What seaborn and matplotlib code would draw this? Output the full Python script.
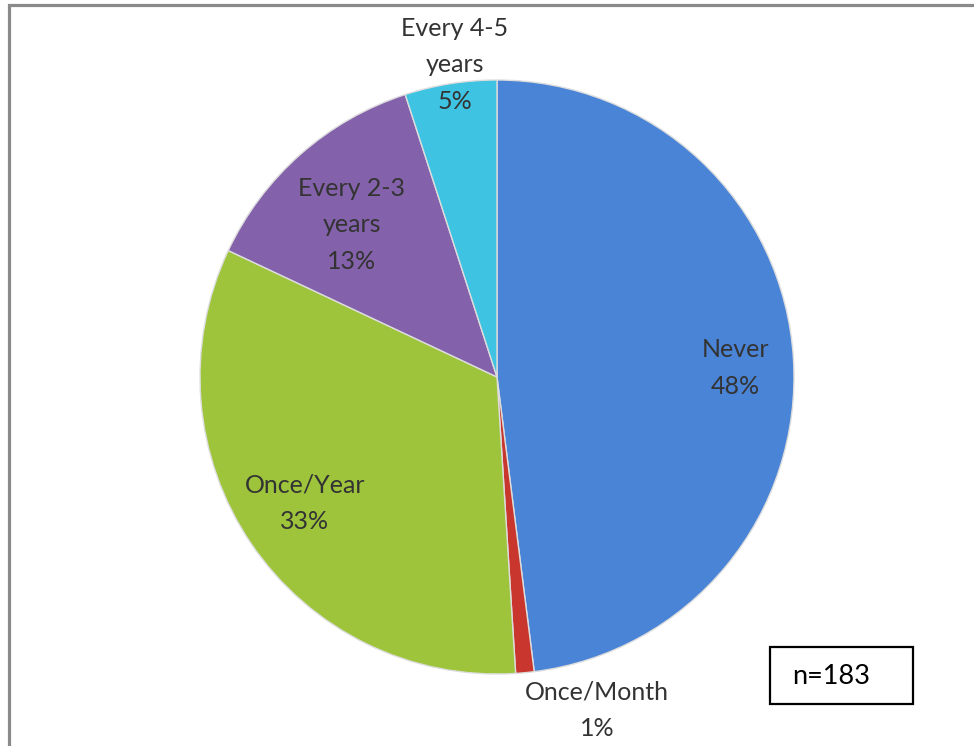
import matplotlib
matplotlib.use("Agg")
import matplotlib.pyplot as plt
import seaborn as sns
from matplotlib.patches import Rectangle

sns.set_theme(style="white")
plt.rcParams['font.family'] = ['Lato', 'DejaVu Sans']

categories = ["Never", "Once/Month", "Once/Year", "Every 2-3\nyears", "Every 4-5\nyears"]
values = [48, 1, 33, 13, 5]
colors = ["#4a84d6", "#c8362e", "#9ec43c", "#8462ab", "#3ec3e2"]
label_pos = [(735, 368), (597, 710), (305, 503), (352, 225), (455, 65)]
sample_note = "n=183"

W, H = 974, 746
fig = plt.figure(figsize=(W / 100, H / 100), dpi=100)
ax = fig.add_axes([0, 0, 1, 1])

cx, cy, r = 497, H - 377, 297
wedges, _ = ax.pie(values, colors=colors, startangle=90, counterclock=False,
                   center=(cx, cy), radius=r, frame=True,
                   wedgeprops=dict(edgecolor="#dddddd", linewidth=1.0))
ax.set_xlim(0, W)
ax.set_ylim(0, H)
ax.set_aspect("equal")
ax.axis("off")

for cat, v, (x, y) in zip(categories, values, label_pos):
    ax.text(x, H - y, f"{cat}\n{v}%", ha="center", va="center",
            fontsize=18, color="#333333", linespacing=1.72)

# outer grey frame
ax.add_patch(Rectangle((9, -20), W, H - 5 + 20, fill=False,
                       edgecolor="#8a8a8a", linewidth=2.3, clip_on=False))

# sample size box
ax.add_patch(Rectangle((770, H - 704), 143, 57, fill=False,
                       edgecolor="black", linewidth=1.6))
ax.text(792, H - 676, sample_note, ha="left", va="center", fontsize=19.5,
        color="black")

fig.savefig("out.png", dpi=100)
